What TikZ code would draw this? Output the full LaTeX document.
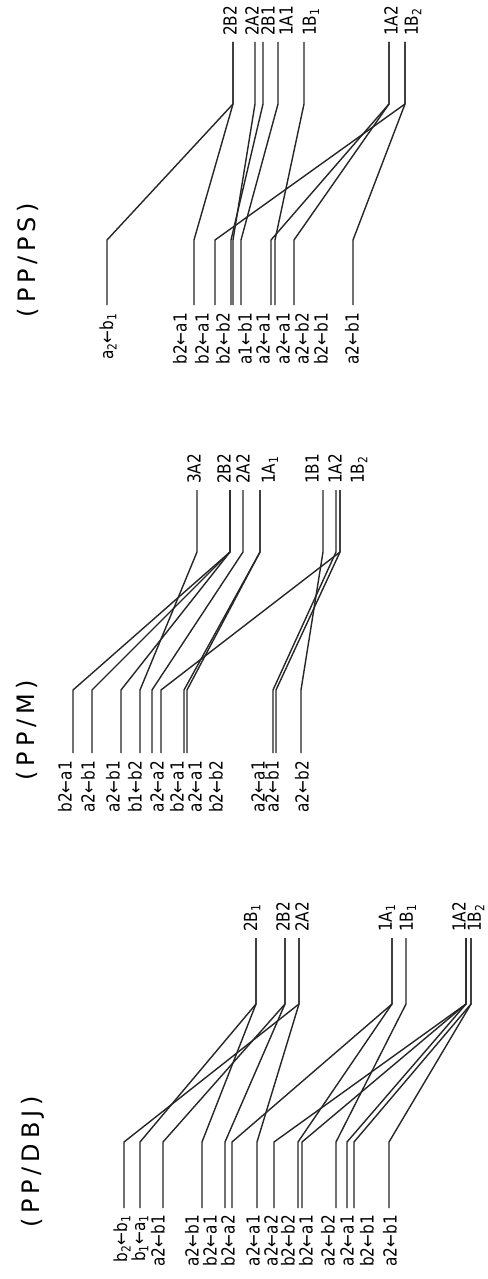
\documentclass[tikz,border=0pt]{standalone}
\usepackage{fontspec}
\newfontfamily\plotfont{DejaVu Sans}[FakeStretch=0.85]
\newfontfamily\titlefont{DejaVu Sans}[LetterSpace=20]
\newcommand{\lo}[1]{\textsubscript{#1}}
\tikzset{
  wire/.style={line width=1.4pt, black!85, line join=round},
  llab/.style={rotate=90, anchor=east, inner sep=1pt, font=\plotfont\fontsize{18}{18}\selectfont},
  rlab/.style={rotate=90, anchor=west, inner sep=1pt, font=\plotfont\fontsize{18}{18}\selectfont},
  ttl/.style={rotate=90, inner sep=0pt, font=\titlefont\fontsize{24}{24}\selectfont}
}
\begin{document}
\begin{tikzpicture}[x=1pt, y=-1pt]
            \fill[white] (0,0) rectangle (487,1279);
            \useasboundingbox (0,0) rectangle (487,1279);

            % (PP/PS)
            \node[ttl] (psTitle) at (28,260) {(PP/PS)};
            \foreach \n/\x in {1/233, 2/255, 3/263, 4/278, 5/304, 6/389, 7/405}
                \coordinate (psR\n) at (\x,42);
            \foreach \n/\x/\t in {1/230/2B2, 2/252/2A2, 3/268/2B1, 4/286/1A1, 5/311/1B\lo1, 6/391/1A2, 7/413/1B\lo2}
                \node[rlab] (psT\n) at (\x,37) {\t};
            \foreach \x/\r in {107/1, 194/1, 215/7, 231/3, 233/2, 241/4, 271/6, 275/5, 294/6, 353/7}
                \draw[wire] (\x,305) coordinate (psL\x) -- (\x,240) -- (psR\r |- 0,104) -- (psR\r);
            \foreach \x/\t in {108/{a\lo2←b\lo1}, 180/b2←a1, 202/b2←a1, 223/b2←b2, 245/a1←b1,
                               263/a2←a1, 283/a2←a1, 302/a2←b2, 321/b2←b1, 352/a2←b1}
                \node[llab] (psN\x) at (\x,312) {\t};

            % (PP/M)
            \node[ttl] (mTitle) at (27,730) {(PP/M)};
            \foreach \n/\x in {1/197, 2/230, 3/243, 4/260, 5/323, 6/336, 7/340}
                \coordinate (mR\n) at (\x,490);
            \foreach \n/\x/\t in {1/194/3A2, 2/224/2B2, 3/243/2A2, 4/270/1A\lo1, 5/312/1B1, 6/335/1A2, 7/359/1B\lo2}
                \node[rlab] (mT\n) at (\x,485) {\t};
            \foreach \x/\r in {73/2, 92/2, 121/2, 140/1, 152/3, 161/7, 184/4, 187/4, 273/6, 276/7, 301/5}
                \draw[wire] (\x,753) coordinate (mL\x) -- (\x,690) -- (mR\r |- 0,552) -- (mR\r);
            \foreach \x/\t in {65/b2←a1, 88/a2←b1, 113/a2←b1, 135/b1←b2, 157/a2←a2, 177/b2←a1,
                               195/a2←a1, 216/b2←b2, 258/a2←a1, 272/a2←b1, 302/a2←b2}
                \node[llab] (mN\x) at (\x,760) {\t};

            % (PP/DBJ)
            \node[ttl] (dTitle) at (33,1162) {(PP/DBJ)};
            \foreach \n/\x in {1/256, 2/285, 3/299, 4/392, 5/406, 6/466, 7/471}
                \coordinate (dR\n) at (\x,938);
            \foreach \n/\x/\t in {1/252/2B\lo1, 2/283/2B2, 3/302/2A2, 4/387/1A\lo1, 5/408/1B\lo1, 6/459/1A2, 7/476/1B\lo2}
                \node[rlab] (dT\n) at (\x,933) {\t};
            \foreach \x/\r in {124/3, 140/1, 163/2, 202/1, 225/2, 232/4, 257/3, 274/6, 298/4, 302/6,
                               336/5, 347/6, 354/7, 389/7}
                \draw[wire] (\x,1208) coordinate (dL\x) -- (\x,1142) -- (dR\r |- 0,1004) -- (dR\r);
            \foreach \x/\t in {122/{b\lo2←b\lo1}, 140/{b\lo1←a\lo1}, 158/a2←b1, 192/a2←b1, 210/b2←a1,
                               228/b2←a2, 253/a2←a1, 271/a2←a2, 288/b2←b2, 306/b2←a1, 328/a2←b2,
                               347/a2←a1, 367/b2←b1, 390/a2←b1}
                \node[llab] (dN\x) at (\x,1214) {\t};
\end{tikzpicture}
\end{document}
